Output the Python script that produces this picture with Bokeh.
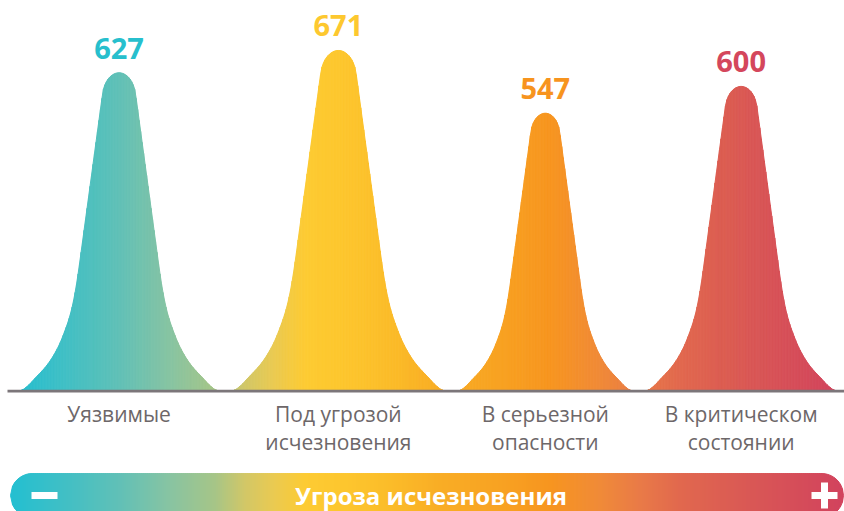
import numpy as np
from bokeh.plotting import figure
from bokeh.models import Range1d
from bokeh.embed import file_html
from bokeh.resources import INLINE
from bokeh.core.properties import value

# ---------------- data ----------------
categories = ["Уязвимые", "Под угрозой\nисчезновения", "В серьезной\nопасности", "В критическом\nсостоянии"]
counts = [627, 671, 547, 600]
scale_title = "Угроза исчезновения"

# ---------------- style ----------------
label_colors = ["#27bfcd", "#fdc82f", "#f7941e", "#d4475c"]
grad_x = [10, 60, 118, 170, 215, 245, 275, 305, 345, 390, 440, 500, 550, 600, 640, 680, 740, 840]
grad_c = ["#22bfd1", "#3ebfc6", "#60c0b7", "#88c4a2", "#a6c587", "#d2c767", "#ebca50", "#fdcb33",
          "#fdc62e", "#fbbc29", "#f9ad25", "#f8a222", "#f7951f", "#f08a38", "#e97a47", "#e1684e",
          "#da5a54", "#d2435d"]

W, H = 844, 511
OFF = 0                 # page offset of the figure
PX = 0.506              # pixels per unit (vertical)
BASE = 389.5            # baseline (page px)
SHAPE = 0.3075          # half-width / height of a peak
TDY = 10.0              # text baseline correction (px, upwards)
FONT = value("Open Sans")


def fx(x):
    return x - OFF


def fy(y):
    return (BASE - y) / PX


def hex2rgb(h):
    return [int(h[i:i + 2], 16) for i in (1, 3, 5)]


GR = np.array([hex2rgb(c) for c in grad_c], dtype=float)


def grad(x):
    r = np.interp(x, grad_x, GR[:, 0])
    g = np.interp(x, grad_x, GR[:, 1])
    b = np.interp(x, grad_x, GR[:, 2])
    return "#%02x%02x%02x" % (int(round(r)), int(round(g)), int(round(b)))


def pchip(xk, yk, x, d0, dn):
    xk = np.asarray(xk, float)
    yk = np.asarray(yk, float)
    h = np.diff(xk)
    delta = np.diff(yk) / h
    d = np.zeros_like(yk)
    for i in range(1, len(xk) - 1):
        if delta[i - 1] * delta[i] > 0:
            w1 = 2 * h[i] + h[i - 1]
            w2 = h[i] + 2 * h[i - 1]
            d[i] = (w1 + w2) / (w1 / delta[i - 1] + w2 / delta[i])
    d[0] = d0
    d[-1] = dn
    idx = np.clip(np.searchsorted(xk, x) - 1, 0, len(xk) - 2)
    t = (x - xk[idx]) / h[idx]
    h00 = 2 * t**3 - 3 * t**2 + 1
    h10 = t**3 - 2 * t**2 + t
    h01 = -2 * t**3 + 3 * t**2
    h11 = t**3 - t**2
    return h00 * yk[idx] + h10 * h[idx] * d[idx] + h01 * yk[idx + 1] + h11 * h[idx] * d[idx + 1]


# peak profile (normalised half width u in [0,1] -> fraction of height)
A_E, B_E = 0.1728, 0.0833
U1, F1, SL = 0.169, 0.934, -2.27
U2 = 0.404
F2 = F1 + SL * (U2 - U1)
tail_u = [U2, 0.461, 0.50, 0.557, 0.625, 0.727, 0.864, 0.94, 1.0]
tail_f = [F2, 0.290, 0.238, 0.185, 0.135, 0.083, 0.036, 0.012, 0.0]


def prof(u):
    u = np.abs(np.atleast_1d(np.asarray(u, float)))
    out = np.zeros_like(u)
    m1 = u <= U1
    out[m1] = (1 - B_E) + B_E * np.sqrt(np.clip(1 - (u[m1] / A_E) ** 2, 0, None))
    m2 = (u > U1) & (u <= U2)
    out[m2] = F1 + SL * (u[m2] - U1)
    m3 = (u > U2) & (u < 1)
    out[m3] = pchip(tail_u, tail_f, u[m3], SL, 0.0)
    return out


p = figure(width=W, height=H, x_range=Range1d(fx(OFF), fx(OFF + W)), y_range=Range1d(fy(OFF + H), fy(OFF)),
           output_backend="svg", toolbar_location=None, min_border=0,
           x_axis_location=None, y_axis_location=None, outline_line_color=None)
p.xgrid.visible = False
p.ygrid.visible = False
p.background_fill_color = "white"
p.border_fill_color = "white"

# layout of peaks: side by side, equal gaps
hws = [SHAPE * PX * v for v in counts]
left0, right0 = 21.0, 834.0
gap = (right0 - left0 - 2 * sum(hws)) / (len(counts) - 1)
centers = []
pos = left0
for hw in hws:
    centers.append(pos + hw)
    pos += 2 * hw + gap

xs, ys, cols = [], [], []
STEP = 1.5
for v, c, hw in zip(counts, centers, hws):
    n = int(np.ceil(2 * hw / STEP))
    edges = np.linspace(c - hw, c + hw, n + 1)
    tops = v * prof((edges - c) / hw)
    for i in range(n):
        xa, xb = edges[i], edges[i + 1]
        xs.append([fx(xa), fx(xa), fx(xb), fx(xb)])
        ys.append([0, tops[i], tops[i + 1], 0])
        cols.append(grad((xa + xb) / 2))
p.patches(xs, ys, fill_color=cols, line_color=cols, line_width=1.0)

# baseline
p.line([fx(7), fx(844)], [fy(390.6), fy(390.6)], line_color="#7c767a", line_width=2.6)

# value labels
p.text(x=[fx(c) for c in centers], y=[v + (14.5 + TDY) / PX for v in counts], text=[str(v) for v in counts],
       text_color=label_colors, text_font=FONT, text_font_size="29px", text_font_style="bold",
       text_align="center", text_baseline="alphabetic")

# category labels
lx, ly, lt = [], [], []
for cat, c in zip(categories, centers):
    for i, line in enumerate(cat.split("\n")):
        lx.append(fx(c))
        ly.append(fy(423 + 28.7 * i - TDY))
        lt.append(line)
p.text(x=lx, y=ly, text=lt, text_color="#6d6769", text_font=FONT, text_font_size="21px",
       text_align="center", text_baseline="alphabetic")

# bottom gradient bar
bar_l, bar_r, r = 10.0, 843.0, 22.0
cy = 495
cl, cr = bar_l + r, bar_r - r
bx = np.arange(bar_l, bar_r + 0.001, 2.0)
if bx[-1] < bar_r:
    bx = np.append(bx, bar_r)


def half_h(x):
    if x < cl:
        return np.sqrt(max(r * r - (cl - x) ** 2, 0))
    if x > cr:
        return np.sqrt(max(r * r - (x - cr) ** 2, 0))
    return r


bxs, bys, bcols = [], [], []
for i in range(len(bx) - 1):
    xa, xb = bx[i], bx[i + 1]
    ha, hb = half_h(xa), half_h(xb)
    bxs.append([fx(xa), fx(xa), fx(xb), fx(xb)])
    bys.append([fy(cy + ha), fy(cy - ha), fy(cy - hb), fy(cy + hb)])
    bcols.append(grad((xa + xb) / 2))
p.patches(bxs, bys, fill_color=bcols, line_color=bcols, line_width=1.0)

# minus / plus signs
p.quad(left=[fx(31)], right=[fx(57)], top=[fy(cy - 3.5)], bottom=[fy(cy + 3.5)],
       fill_color="white", line_color=None)
pc = bar_r - 19
p.quad(left=[fx(pc - 13), fx(pc - 3.5)], right=[fx(pc + 13), fx(pc + 3.5)],
       top=[fy(cy - 3.5), fy(cy - 13)], bottom=[fy(cy + 3.5), fy(cy + 13)],
       fill_color="white", line_color=None)

p.text(x=[fx(430.5)], y=[fy(505 - TDY)], text=[scale_title], text_color="white", text_font=FONT,
       text_font_size="24px", text_font_style="bold", text_align="center", text_baseline="alphabetic")

open("out.html", "w").write(file_html(p, INLINE))
